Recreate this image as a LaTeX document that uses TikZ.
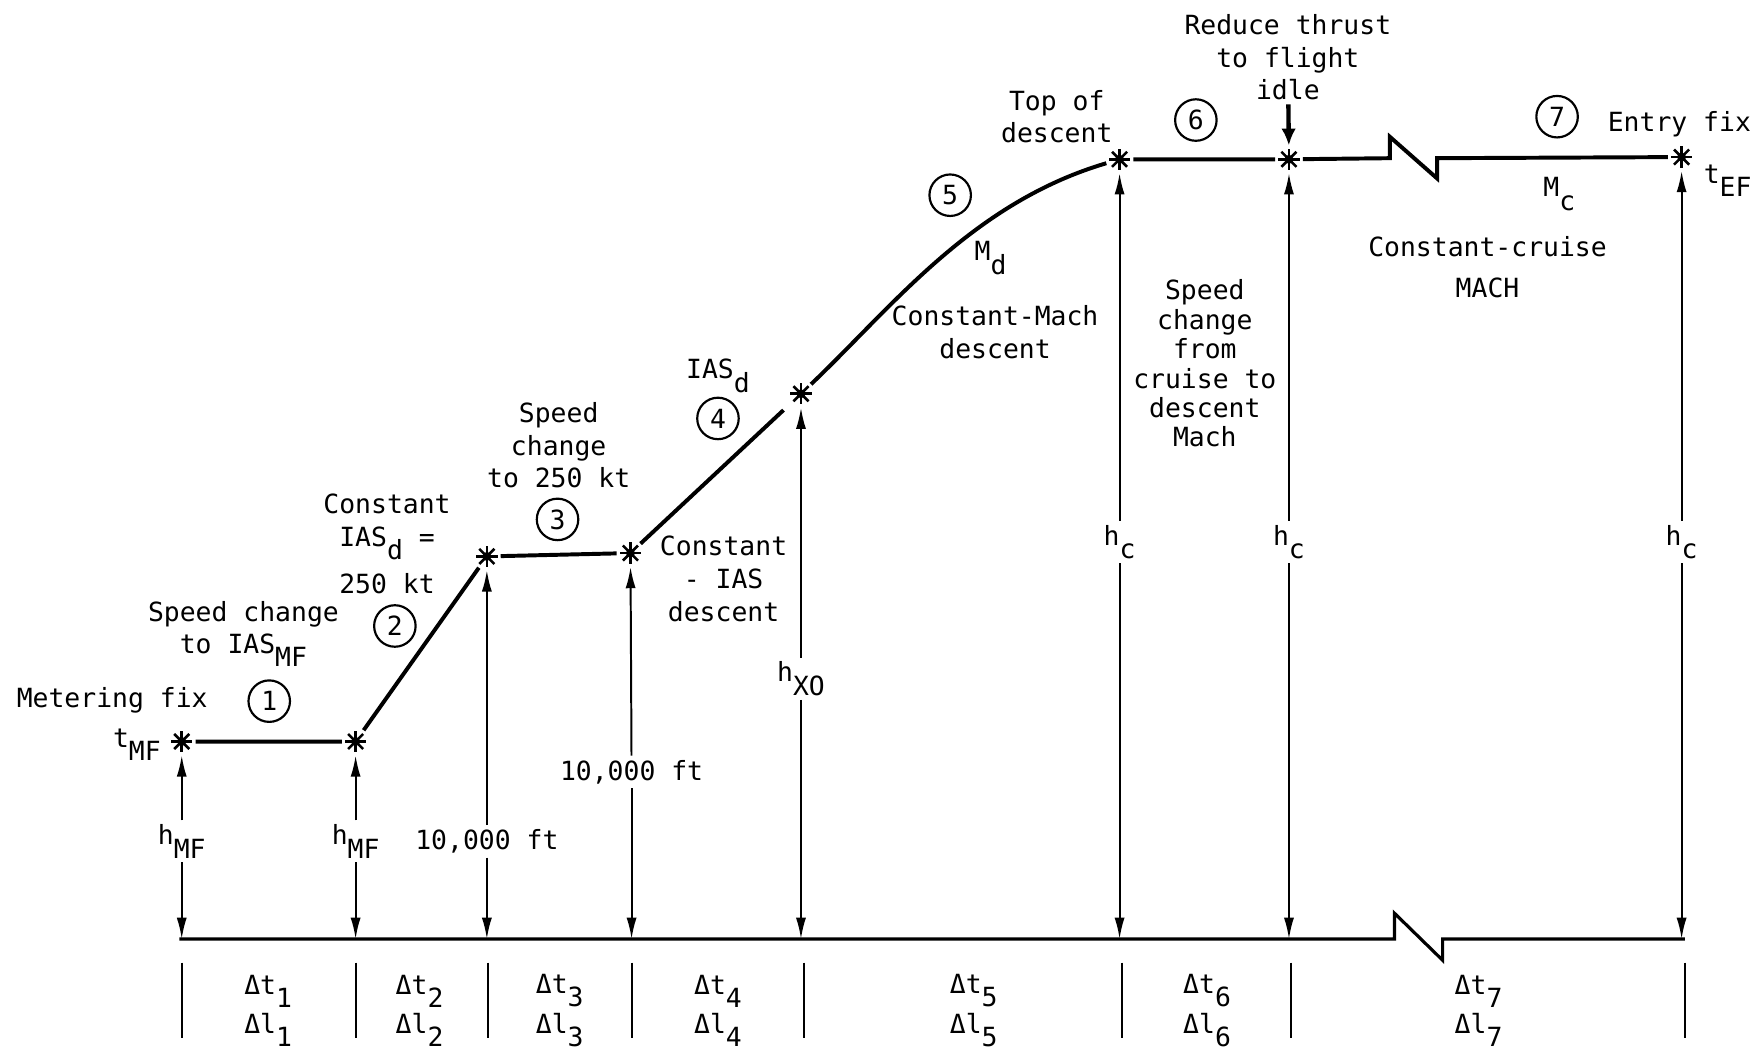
\documentclass[tikz,border=0pt]{standalone}
\usepackage{fontspec}
\setmainfont{DejaVu Sans Mono}
\usetikzlibrary{arrows.meta}
\newcommand{\lo}[1]{\raisebox{-0.5em}{#1}}
\tikzset{
  prof/.style={line width=2pt},
  hgt/.style={line width=1pt,-{Latex[length=0.38cm,width=0.18cm]}},
  fixpt/.style={circle,inner sep=0pt,minimum size=0.48cm,
    path picture={
      \fill (path picture bounding box.center) circle (0.08cm);
      \foreach \a in {0,45,...,315}
        \draw[line width=1.3pt] (path picture bounding box.center) -- ++(\a:0.19cm);
    }},
  num/.style={circle,draw,line width=1.1pt,minimum size=0.74cm,inner sep=0pt},
  txt/.style={align=center},
}
\begin{document}
\begin{tikzpicture}[x=0.02cm,y=-0.02cm,every node/.style={font=\fontsize{13.4}{16.5}\selectfont,inner sep=2pt}]
    \useasboundingbox (0,0) rectangle (1568,938);

    % fix points along the profile
    \node[fixpt] (mf) at (162,661) {};
    \node[fixpt] (s2) at (317,661) {};
    \node[fixpt] (s3) at (434,496) {};
    \node[fixpt] (s4) at (562,493) {};
    \node[fixpt] (xo) at (714,351) {};
    \node[fixpt] (tod) at (998,142) {};
    \node[fixpt] (idle) at (1149,142) {};
    \node[fixpt] (ef) at (1499,140) {};

    % descent profile
    \draw[prof] (mf) -- (s2) -- (s3) -- (s4);
    \draw[prof,shorten >=0.18cm] (s4) -- (xo);
    \draw[prof] (xo) .. controls (795,274) and (866,181) .. (tod);
    \draw[prof] (tod) -- (idle) -- (1239,141) -- (1239,122) -- (1281,159) -- (1281,141) -- (ef);

    % ground
    \coordinate (g0) at (160,837);
    \coordinate (g1) at (1502,837);
    \draw[line width=1.6pt] (g0) -- (1243,837) -- (1243,814) -- (1286,856) -- (1286,837) -- (g1);

    % altitudes
    \node (hmf1) at (162,750) {h\lo{MF}};
    \node (hmf2) at (317,750) {h\lo{MF}};
    \node (tk1) at (434,750) {10,000 ft};
    \node (tk2) at (563,688) {10,000 ft};
    \node (hxo) at (714,605) {h\lo{XO}};
    \node (hc1) at (998,483) {h\lo{c}};
    \node (hc2) at (1149,483) {h\lo{c}};
    \node (hc3) at (1499,483) {h\lo{c}};
    \foreach \a/\b in {hmf1/mf,hmf2/s2,tk1/s3,tk2/s4,hxo/xo,hc1/tod,hc2/idle,hc3/ef}{
        \draw[hgt] (\a) -- (\b);
        \draw[hgt] (\a) -- (\a |- g0);
    }

    % segment captions
    \node (mfix) at (100,624) {Metering fix};
    \node (tmf) at (122,664) {t\lo{MF}};
    \node[num] (n1) at (240,625) {1};
    \node[txt] (sc1) at (217,565) {Speed change\\to IAS\lo{MF}};
    \node[num] (n2) at (352,558) {2};
    \node[txt] (cias) at (345,485) {Constant\\IAS\lo{d} =\\[6pt]250 kt};
    \node[txt] (sc3) at (498,397) {Speed\\change\\to 250 kt};
    \node[num] (n3) at (497,463) {3};
    \node[txt] (cdes) at (645,516) {Constant\\- IAS\\descent};
    \node (iasd) at (640,335) {IAS\lo{d}};
    \node[num] (n4) at (640,373) {4};
    \node[num] (n5) at (847,174) {5};
    \node (md) at (883,230) {M\lo{d}};
    \node[txt] (cmach) at (887,296) {Constant-Mach\\descent};
    \node[txt] (tdes) at (942,104) {Top of\\descent};
    \node[num] (n6) at (1066,107) {6};
    \node[txt] (thr) at (1148,51) {Reduce thrust\\to flight\\idle};
    \draw[line width=2.2pt,-{Latex[length=0.3cm,width=0.26cm]}] (thr) -- (idle);
    \node[txt,font=\fontsize{13.4}{14.9}\selectfont] (scm) at (1074,324) {Speed\\change\\from\\cruise to\\descent\\Mach};
    \node[num] (n7) at (1388,104) {7};
    \node (efix) at (1497,111) {Entry fix};
    \node (tef) at (1540,161) {t\lo{EF}};
    \node (mc) at (1390,173) {M\lo{c}};
    \node[txt] (ccr) at (1326,238) {Constant-cruise\\[4pt]MACH};

    % time and distance increments
    \foreach \x in {162,317,435,563,717,1000,1151,1502}
        \draw[line width=1pt] (\x,858) -- (\x,925);
    \foreach \x/\i in {239/1,374/2,499/3,640/4,868/5,1076/6,1318/7}
        \node[txt] (d\i) at (\x,901) {Δt\lo{\i}\\[2pt]Δl\lo{\i}};
\end{tikzpicture}
\end{document}
